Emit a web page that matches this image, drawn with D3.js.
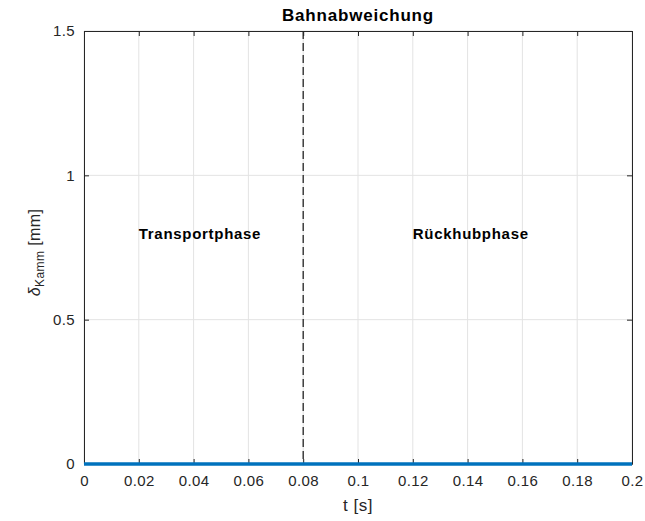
<!DOCTYPE html>
<html>
<head>
<meta charset="utf-8">
<script src="https://cdn.jsdelivr.net/npm/d3@7"></script>
<style>
  body { margin: 0; background: #fff; }
  text { font-family: "Liberation Sans", Arial, sans-serif; }
</style>
</head>
<body>
<script>
// data
var tValues = [0, 0.02, 0.04, 0.06, 0.08, 0.1, 0.12, 0.14, 0.16, 0.18, 0.2];
var deviation = [0, 0, 0, 0, 0, 0, 0, 0, 0, 0, 0];
var xTicks = [0, 0.02, 0.04, 0.06, 0.08, 0.1, 0.12, 0.14, 0.16, 0.18, 0.2];
var yTicks = [0, 0.5, 1, 1.5];
var phaseBoundary = 0.08;
var phaseLabels = [
  {name: "Transportphase", t: 0.02, y: 0.8},
  {name: "Rückhubphase", t: 0.12, y: 0.8}
];

var width = 645, height = 521;
var plotLeft = 84, plotRight = 632, plotTop = 31, plotBottom = 464;

var svg = d3.select("body").append("svg")
  .attr("width", width)
  .attr("height", height);

var x = d3.scaleLinear().domain([0, 0.2]).range([plotLeft, plotRight]);
var y = d3.scaleLinear().domain([0, 1.5]).range([plotBottom, plotTop]);

// grid
svg.selectAll("line.gx")
  .data(xTicks)
  .enter().append("line")
  .attr("class", "gx")
  .attr("x1", function(d) { return x(d); })
  .attr("x2", function(d) { return x(d); })
  .attr("y1", plotTop).attr("y2", plotBottom)
  .attr("stroke", "#e3e3e3").attr("stroke-width", 1);

svg.selectAll("line.gy")
  .data(yTicks)
  .enter().append("line")
  .attr("class", "gy")
  .attr("x1", plotLeft).attr("x2", plotRight)
  .attr("y1", function(d) { return y(d); })
  .attr("y2", function(d) { return y(d); })
  .attr("stroke", "#e3e3e3").attr("stroke-width", 1);

// axes (MATLAB style, ticks inward)
var fmt = function(d) { return d3.format("~g")(d); };

var xAxis = svg.append("g")
  .attr("transform", "translate(0," + plotBottom + ")")
  .call(d3.axisBottom(x).tickValues(xTicks).tickFormat(fmt).tickSizeInner(-5).tickSizeOuter(0).tickPadding(11));
var xAxisTop = svg.append("g")
  .attr("transform", "translate(0," + plotTop + ")")
  .call(d3.axisTop(x).tickValues(xTicks).tickFormat("").tickSizeInner(-5).tickSizeOuter(0));
var yAxis = svg.append("g")
  .attr("transform", "translate(" + plotLeft + ",0)")
  .call(d3.axisLeft(y).tickValues(yTicks).tickFormat(fmt).tickSizeInner(-5).tickSizeOuter(0).tickPadding(9));
var yAxisRight = svg.append("g")
  .attr("transform", "translate(" + plotRight + ",0)")
  .call(d3.axisRight(y).tickValues(yTicks).tickFormat("").tickSizeInner(-5).tickSizeOuter(0));

[xAxis, xAxisTop, yAxis, yAxisRight].forEach(function(g) {
  g.select(".domain").attr("stroke", "#262626");
  g.selectAll(".tick line").attr("stroke", "#262626");
  g.selectAll(".tick text").attr("fill", "#262626")
    .style("font-size", "15px").style("letter-spacing", "0.4px");
});

// dashed phase boundary
svg.append("line")
  .attr("x1", x(phaseBoundary)).attr("x2", x(phaseBoundary))
  .attr("y1", y(1.5)).attr("y2", y(0))
  .attr("stroke", "#262626").attr("stroke-width", 1.3)
  .attr("stroke-dasharray", "8,4");

// deviation line
var line = d3.line()
  .x(function(d, i) { return x(tValues[i]); })
  .y(function(d) { return y(d); });

svg.append("path")
  .datum(deviation)
  .attr("d", line)
  .attr("fill", "none")
  .attr("stroke", "#0072BD")
  .attr("stroke-width", 3.5);

// phase labels (left-aligned like MATLAB text())
svg.selectAll("text.phase")
  .data(phaseLabels)
  .enter().append("text")
  .attr("class", "phase")
  .attr("x", function(d) { return x(d.t); })
  .attr("y", function(d) { return y(d.y) + 6; })
  .attr("text-anchor", "start")
  .style("font-size", "15px")
  .style("font-weight", "bold")
  .style("letter-spacing", "0.7px")
  .attr("fill", "#000")
  .text(function(d) { return d.name; });

// title
svg.append("text")
  .attr("x", (plotLeft + plotRight) / 2)
  .attr("y", 21)
  .attr("text-anchor", "middle")
  .style("font-size", "17px")
  .style("font-weight", "bold")
  .style("letter-spacing", "0.8px")
  .attr("fill", "#000")
  .text("Bahnabweichung");

// x label
svg.append("text")
  .attr("x", (plotLeft + plotRight) / 2)
  .attr("y", 511)
  .attr("text-anchor", "middle")
  .style("font-size", "17px")
  .style("letter-spacing", "0.5px")
  .attr("fill", "#262626")
  .text("t [s]");

// y label with subscript
var yl = svg.append("text")
  .attr("transform", "translate(40," + ((plotTop + plotBottom) / 2 + 5) + ") rotate(-90)")
  .attr("text-anchor", "middle")
  .style("font-size", "16px")
  .style("letter-spacing", "0.4px")
  .attr("fill", "#262626");
yl.append("tspan").style("font-style", "italic").text("δ");
yl.append("tspan").attr("dy", 4).style("font-size", "12px").text("Kamm");
yl.append("tspan").attr("dy", -4).text(" [mm]");
</script>
</body>
</html>
